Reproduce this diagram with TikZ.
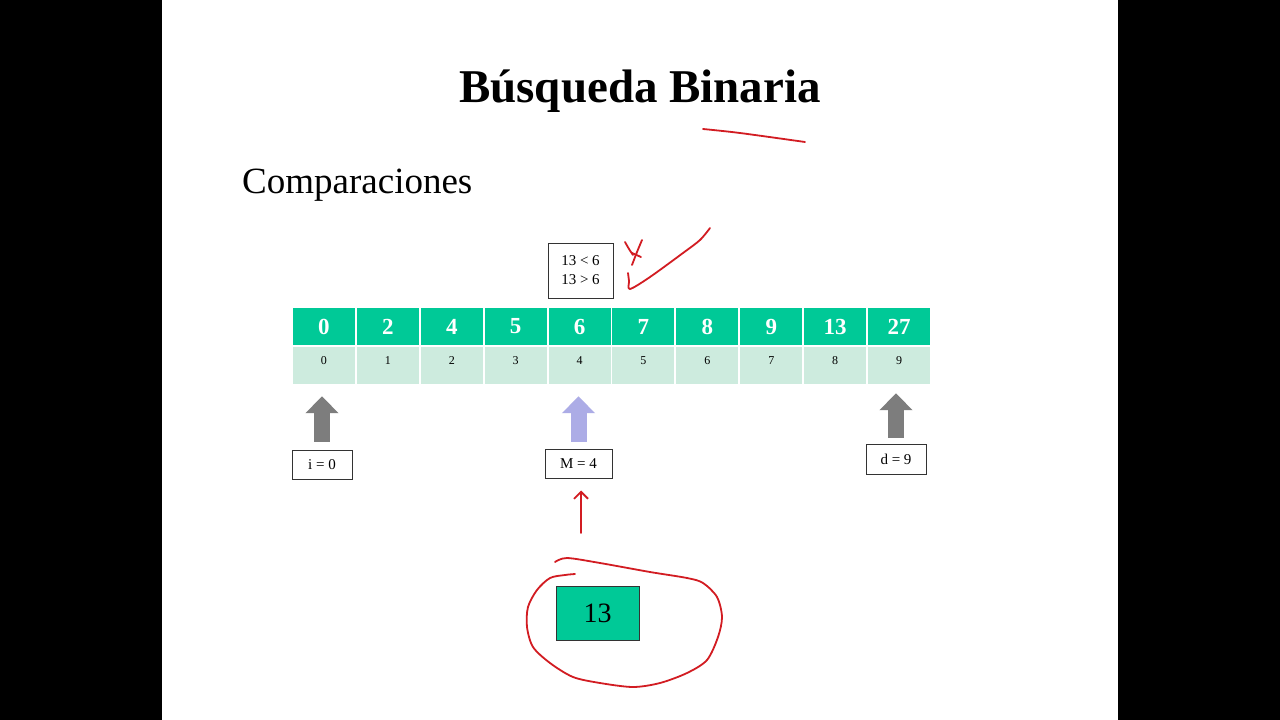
\documentclass[tikz,border=0pt]{standalone}
\usepackage{fontspec}
\setmainfont{Liberation Serif}
\usetikzlibrary{arrows.meta,calc}

\definecolor{cellteal}{RGB}{0,201,151}
\definecolor{cellmint}{RGB}{205,235,222}
\definecolor{arrgray}{RGB}{125,125,125}
\definecolor{arrblue}{RGB}{172,172,230}
\definecolor{penred}{RGB}{210,28,34}

\begin{document}
\begin{tikzpicture}[x=1pt,y=-1pt,
        val/.style={fill=cellteal, minimum width=62pt, minimum height=37pt, inner sep=0pt,
            text=white, font=\fontsize{23}{25}\selectfont\bfseries},
        idx/.style={fill=cellmint, minimum width=62pt, minimum height=37pt, inner sep=0pt,
            text height=9pt, text depth=11.5pt, font=\fontsize{12}{14}\selectfont},
        lbl/.style={draw=black!80, line width=1pt, fill=white, inner sep=0pt,
            font=\fontsize{15}{19}\selectfont},
        blk/.style={line width=16pt, -{Triangle[width=32pt,length=17pt]}},
        pen/.style={penred, line width=1.8pt, line cap=round, line join=round}]
        % slide
        \fill[black] (0,0) rectangle (1280,720);
        \fill[white] (162,0) rectangle (1118,720);
        \path
            (640,102) node[anchor=base, font=\fontsize{47}{50}\selectfont\bfseries] (title){Búsqueda Binaria}
            (242,193) node[anchor=base west, inner sep=0pt, font=\fontsize{37}{40}\selectfont] (sub){Comparaciones};
        % array values
        \path
            (323.95, 326.5) node[val] (v0){0}
            (387.85, 326.5) node[val] (v1){2}
            (451.75, 326.5) node[val] (v2){4}
            (515.65, 326.5) node[val] (v3){5}
            (579.55, 326.5) node[val] (v4){6}
            (643.45, 326.5) node[val] (v5){7}
            (707.35, 326.5) node[val] (v6){8}
            (771.25, 326.5) node[val] (v7){9}
            (835.15, 326.5) node[val] (v8){13}
            (899.05, 326.5) node[val] (v9){27};
        % array indices
        \path
            (323.95, 365.5) node[idx] (k0){0}
            (387.85, 365.5) node[idx] (k1){1}
            (451.75, 365.5) node[idx] (k2){2}
            (515.65, 365.5) node[idx] (k3){3}
            (579.55, 365.5) node[idx] (k4){4}
            (643.45, 365.5) node[idx] (k5){5}
            (707.35, 365.5) node[idx] (k6){6}
            (771.25, 365.5) node[idx] (k7){7}
            (835.15, 365.5) node[idx] (k8){8}
            (899.05, 365.5) node[idx] (k9){9};
        \path
            (580.5, 270.5) node[lbl, minimum width=65pt, minimum height=55pt, align=center] (cmp){13 < 6\\13 > 6}
            (322, 464.5) node[lbl, minimum width=60pt, minimum height=29pt] (i){i = 0}
            (578.5, 463.5) node[lbl, minimum width=67pt, minimum height=29pt] (m){M = 4}
            (896, 459) node[lbl, minimum width=60pt, minimum height=30pt] (d){d = 9}
            (597.5, 613) node[draw=black!80, line width=1pt, fill=cellteal, minimum width=83pt,
                minimum height=54pt, font=\fontsize{28}{30}\selectfont] (key){13};
        % pointers
        \draw[blk, arrgray, shorten <=8pt, shorten >=12pt] (i.north) -- (i.north |- k0.south);
        \draw[blk, arrblue, shorten <=7pt, shorten >=12pt] (m.north) -- (m.north |- k4.south);
        \draw[blk, arrgray, shorten <=6pt, shorten >=9pt] (d.north) -- (d.north |- k9.south);
        % pen marks
        \coordinate (tail) at (581,533);
        \draw[pen, -{Straight Barb[length=7pt,width=14pt]}, shorten >=12pt] (tail) -- (tail |- m.south);
        \draw[pen] plot[smooth] coordinates {(703,129) (740,133) (805,142)};
        \draw[pen] plot[smooth] coordinates {(625,242) (629,249) (633,255)};
        \draw[pen] plot[smooth] coordinates {(642,240) (637,252) (632,265)};
        \draw[pen] (632,253) -- (641,257);
        \draw[pen] plot[smooth] coordinates {(628,273) (629,281) (630,289) (650,277) (683,253) (700,240) (710,228)};
        \draw[pen] plot[smooth] coordinates {(555,562) (567,558) (600,563) (650,572) (687,578) (703,583)
            (717,597) (722,617) (718,637) (707,660) (687,673) (660,683) (633,687) (600,683) (573,677)
            (550,663) (533,647) (527,627) (528,607) (537,590) (550,578) (565,575) (575,574)};
\end{tikzpicture}
\end{document}
